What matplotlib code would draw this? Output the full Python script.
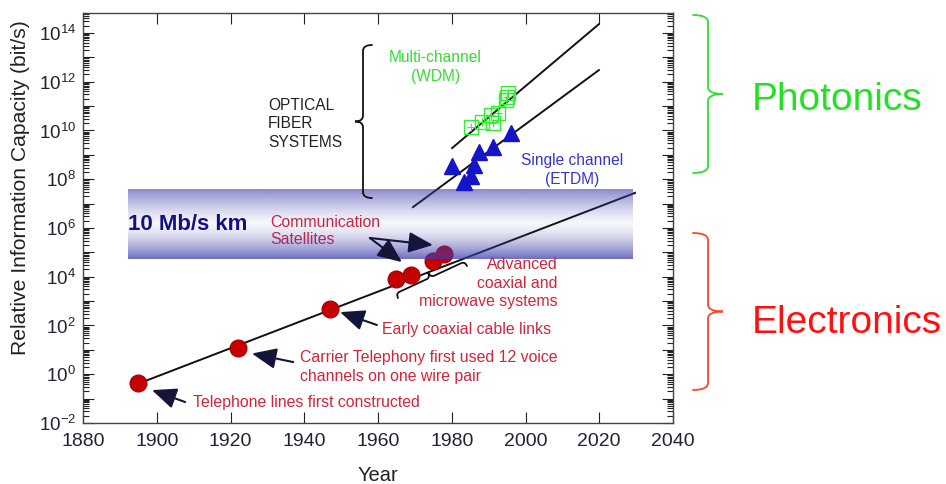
import numpy as np
import matplotlib
matplotlib.use("Agg")
import matplotlib.pyplot as plt
from matplotlib.path import Path
from matplotlib.patches import PathPatch
from matplotlib.ticker import FixedLocator, FuncFormatter

plt.rcParams["font.family"] = ["Liberation Sans", "DejaVu Sans"]
plt.rcParams["mathtext.fontset"] = "custom"
plt.rcParams["mathtext.rm"] = "Liberation Sans"
plt.rcParams["mathtext.it"] = "Liberation Sans:italic"
plt.rcParams["mathtext.bf"] = "Liberation Sans:bold"

# --- data ---
elec_years = [1895, 1922, 1947, 1965, 1969, 1975, 1978]
elec_cap = [0.45, 12, 480, 8e3, 1.2e4, 4.5e4, 8.5e4]

etdm_years = [1980.1, 1983.3, 1985.2, 1986.0, 1987.4, 1991.2, 1996.1]
etdm_cap = [3.5e8, 7.8e7, 1.35e8, 3.8e8, 1.3e9, 2.1e9, 8e9]

wdm_years = [1985.3, 1988.2, 1990.6, 1991.2, 1992.5, 1994.7, 1995.0, 1995.3]
wdm_cap = [1.4e10, 2.2e10, 4.3e10, 2.0e10, 5.2e10, 1.7e11, 2.3e11, 3.4e11]

elec_trend_years = [1895.5, 2029.7]
elec_trend_cap = [0.44, 2.75e7]
etdm_trend_years = [1969.5, 2019.9]
etdm_trend_cap = [7.2e6, 3.0e12]
wdm_trend_years = [1980.1, 2019.9]
wdm_trend_cap = [1.9e9, 2.3e14]

band_years = [1892.2, 2029.2]
band_cap = [5.4e4, 4.4e7]

x_ticks = [1880, 1900, 1920, 1940, 1960, 1980, 2000, 2020, 2040]
y_exponents = list(range(-2, 15))
y_lim = (1e-2, 10 ** 14.82)

RED_TXT = "#d0263a"
GREEN = "#33dd33"
BLUE_TXT = "#3535cc"
W, H = 946, 484


def brace(fig, p0, p1, q, w, r, color, lw):
    """Curly brace between two image-pixel points, tip offset w on the left-hand normal."""
    p0, p1 = np.array(p0, float), np.array(p1, float)
    d = p1 - p0
    L = np.hypot(*d)
    u = d / L
    n = np.array([u[1], -u[0]])  # normal in image coords (y down)

    def pt(a, b):
        p = p0 + u * a + n * b
        return (p[0] / W, 1 - p[1] / H)

    m = L / 2
    verts = [pt(0, 0), pt(0, q), pt(r, q), pt(m - r, q), pt(m, q), pt(m, w),
             pt(m, q), pt(m + r, q), pt(L - r, q), pt(L, q), pt(L, 0)]
    codes = [Path.MOVETO, Path.CURVE3, Path.CURVE3, Path.LINETO, Path.CURVE3, Path.CURVE3,
             Path.CURVE3, Path.CURVE3, Path.LINETO, Path.CURVE3, Path.CURVE3]
    fig.add_artist(PathPatch(Path(verts, codes), transform=fig.transFigure,
                             fill=False, edgecolor=color, lw=lw, capstyle="round"))


fig = plt.figure(figsize=(W / 100, H / 100), dpi=100)
ax = fig.add_axes([83 / W, 1 - 423 / H, 590 / W, 410 / H])
ax.set_yscale("log")

# trend lines
line_kw = dict(color="#111111", lw=1.4, zorder=2)
ax.plot(elec_trend_years, elec_trend_cap, **line_kw)
ax.plot(etdm_trend_years, etdm_trend_cap, **line_kw)
ax.plot(wdm_trend_years, wdm_trend_cap, **line_kw)

# markers
ax.plot(elec_years, elec_cap, "o", ms=12, mfc="#c40000", mec="#b00000", zorder=3)
ax.plot(etdm_years, etdm_cap, "^", ms=11, mfc="#1414c8", mec="#1414c8", zorder=6)
ax.plot(wdm_years, wdm_cap, "s", ms=10, mfc="none", mec="#33ee33", mew=1.0, zorder=6)
ax.plot(wdm_years, wdm_cap, "+", ms=6, color="#33ee33", mew=0.8, zorder=6)

# 10 Mb/s km band: gradient drawn in (x data, y axes-fraction) so it is even on the log axis
lo, hi = np.log10(y_lim)
fy = lambda v: (np.log10(v) - lo) / (hi - lo)
t = np.linspace(0, 1, 200)[:, None]  # 0 = bottom
alpha = np.where(t < 0.5, 0.05 + 0.68 * ((0.5 - t) / 0.5) ** 1.5,
                 0.05 + 0.58 * ((t - 0.5) / 0.5) ** 1.3)
rgba = np.zeros((200, 2, 4))
rgba[..., 0] = 60 / 255
rgba[..., 1] = 60 / 255
rgba[..., 2] = 170 / 255
rgba[..., 3] = np.repeat(alpha, 2, axis=1)
ax.imshow(rgba, extent=[band_years[0], band_years[1], fy(band_cap[0]), fy(band_cap[1])],
          transform=ax.get_xaxis_transform(), origin="lower", aspect="auto",
          zorder=4, interpolation="bilinear")
ax.set_xlim(1880, 2040)
ax.set_ylim(*y_lim)

# texts
ax.text(1930.2, 10 ** 10.27, "OPTICAL\nFIBER\nSYSTEMS", fontsize=11.2, color="#222222",
        ha="left", va="center", linespacing=1.3, zorder=7)
ax.text(1975.5, 10 ** 12.6, "Multi-channel\n(WDM)", fontsize=11.2, color=GREEN,
        ha="center", va="center", linespacing=1.3, zorder=7)
ax.text(2012.6, 10 ** 8.38, "Single channel\n(ETDM)", fontsize=11.2, color=BLUE_TXT,
        ha="center", va="center", linespacing=1.3, zorder=7)
ax.text(1892.2, 10 ** 6.16, "10 Mb/s km", fontsize=16, fontweight="bold", color="#10108a",
        ha="left", va="center", zorder=7)
ax.text(1930.7, 10 ** 5.88, "Communication\nSatellites", fontsize=11.4, color=RED_TXT,
        ha="left", va="center", linespacing=1.2, zorder=3)
ax.text(2008.8, 10 ** 3.74, "Advanced\ncoaxial and\nmicrowave systems", fontsize=11.4,
        color=RED_TXT, ha="right", va="center", multialignment="right", linespacing=1.3, zorder=7)
ax.text(1961.1, 10 ** 1.82, "Early coaxial cable links", fontsize=11.4, color=RED_TXT,
        ha="left", va="center", zorder=7)
ax.text(1938.8, 10 ** 0.30, "Carrier Telephony first used 12 voice\nchannels on one wire pair",
        fontsize=11.4, color=RED_TXT, ha="left", va="center", linespacing=1.3, zorder=7)
ax.text(1909.8, 10 ** -1.14, "Telephone lines first constructed", fontsize=11.4, color=RED_TXT,
        ha="left", va="center", zorder=7)

# arrows
arrow_kw = dict(arrowstyle="-|>,head_length=0.75,head_width=0.32", color="#15153a", lw=1.5,
                shrinkA=0, shrinkB=0, mutation_scale=20)
for tip, tail in [((1966.5, 10 ** 4.6), (1957.8, 10 ** 5.59)),
                  ((1974.9, 10 ** 5.3), (1957.8, 10 ** 5.59)),
                  ((1949.7, 10 ** 2.55), (1959.7, 10 ** 2.02)),
                  ((1925.8, 10 ** 0.85), (1937.0, 10 ** 0.50)),
                  ((1898.7, 10 ** -0.65), (1907.7, 10 ** -1.14))]:
    ax.annotate("", xy=tip, xytext=tail, arrowprops=arrow_kw, zorder=7)

# axes styling
for s in ax.spines.values():
    s.set_color("#444444")
    s.set_linewidth(1.0)
ax.xaxis.set_major_locator(FixedLocator(x_ticks))
ax.yaxis.set_major_locator(FixedLocator([10.0 ** e for e in y_exponents]))
ax.yaxis.set_minor_locator(FixedLocator([k * 10.0 ** e for e in y_exponents[:-1] for k in range(2, 10)]
                                        + [k * 1e14 for k in range(2, 7)]))
ax.yaxis.set_major_formatter(FuncFormatter(
    lambda v, p: (r"$10^{%d}$" % round(np.log10(v))) if round(np.log10(v)) % 2 == 0 else ""))
ax.tick_params(which="both", direction="in", top=True, right=True, color="#222222",
               labelcolor="#222233", width=0.8)
ax.tick_params(axis="x", labelsize=14)
ax.tick_params(axis="y", labelsize=13.5)
ax.tick_params(which="major", length=8)
ax.tick_params(which="minor", length=4.5)
ax.tick_params(axis="x", pad=7)
ax.tick_params(axis="y", pad=5)
ax.set_xlabel("Year", fontsize=14.5, color="#222222")
ax.set_ylabel("Relative Information Capacity (bit/s)", fontsize=15.2, color="#222222")
ax.xaxis.set_label_coords(0.5, -0.105)
ax.yaxis.set_label_coords(-0.09, 0.574)

# braces (image-pixel positions; tip on the left-hand side of p0 -> p1)
brace(fig, (372, 198), (372, 45), q=9, w=17, r=6, color="#111111", lw=1.3)
brace(fig, (398, 298), (467, 266), q=5, w=11, r=4, color="#111111", lw=1.3)
brace(fig, (693, 15), (693, 173), q=15, w=30, r=7, color=GREEN, lw=1.3)
brace(fig, (693, 233), (693, 390), q=15, w=30, r=7, color="#ff4422", lw=1.3)

fig.text(752 / W, 1 - 110 / H, "Photonics", fontsize=28, color="#22e022",
         ha="left", va="baseline")
fig.text(752 / W, 1 - 333 / H, "Electronics", fontsize=28, color="#ff1010",
         ha="left", va="baseline")

fig.savefig("out.png", dpi=100)
